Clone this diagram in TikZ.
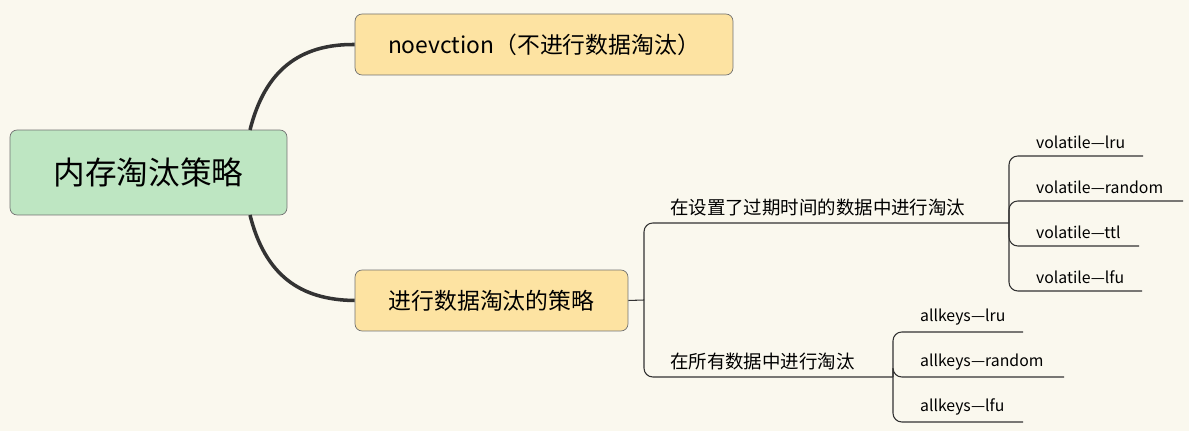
\documentclass[tikz,border=0pt]{standalone}
\usepackage{fontspec}
\setmainfont{Noto Sans CJK SC}
\definecolor{bgc}{HTML}{FAF8EE}
\definecolor{rootc}{HTML}{BEE6C2}
\definecolor{boxc}{HTML}{FDE3A2}
\definecolor{linec}{HTML}{333333}
\tikzset{
  rootbox/.style={draw=linec!70,fill=rootc,rounded corners=4pt,minimum width=5.54cm,minimum height=1.7cm,font=\fontsize{18}{20}\selectfont},
  subbox/.style={draw=linec!70,fill=boxc,rounded corners=4pt,minimum height=1.22cm,font=\fontsize{13}{15}\selectfont},
  thick line/.style={draw=linec,line width=2pt},
  thin line/.style={draw=linec,line width=0.6pt,rounded corners=5pt},
  midlabel/.style={anchor=south west,inner sep=1pt,font=\fontsize{10.5}{12}\selectfont},
  leaf/.style={anchor=south west,inner sep=1pt,font=\fontsize{9}{11}\selectfont}
}
\begin{document}
\begin{tikzpicture}[x=0.02cm,y=-0.02cm]
  \fill[bgc] (0,0) rectangle (1189,431);
  \useasboundingbox (0,0) rectangle (1189,431);
  % main boxes
  \node[rootbox] (root) at (148.5,172.5) {内存淘汰策略};
  \node[subbox,minimum width=7.56cm] (keep) at (544,44.5) {noevction（不进行数据淘汰）};
  \node[subbox,minimum width=5.46cm] (evict) at (491.5,300.5) {进行数据淘汰的策略};
  \coordinate (rtop) at (250,130);
  \coordinate (rbot) at (250,215);
  \draw[thick line] (rtop) .. controls (265,70) and (300,44) .. (keep.west);
  \draw[thick line] (rbot) .. controls (265,275) and (300,300) .. (evict.west);
  % second level
  \coordinate (fork) at (644,300);
  \coordinate (volend) at (1009,223);
  \coordinate (allend) at (893,377);
  \draw[thin line] (evict.east) -- (fork);
  \draw[thin line] (fork) |- (volend);
  \draw[thin line] (fork) |- (allend);
  \node[midlabel] (vol) at (668,218) {在设置了过期时间的数据中进行淘汰};
  \node[midlabel] (all) at (668,372) {在所有数据中进行淘汰};
  % volatile leaves
  \foreach \y/\e/\t in {156/1143/lru,201/1183/random,246/1139/ttl,291/1142/lfu}{
    \draw[thin line] (volend) |- (\e,\y);
    \node[leaf] at (1034,\y-5) {volatile—\t};
  }
  % allkeys leaves
  \foreach \y/\e/\t in {332/1023/lru,377/1064/random,422/1023/lfu}{
    \draw[thin line] (allend) |- (\e,\y);
    \node[leaf] at (918,\y-5) {allkeys—\t};
  }
\end{tikzpicture}
\end{document}
